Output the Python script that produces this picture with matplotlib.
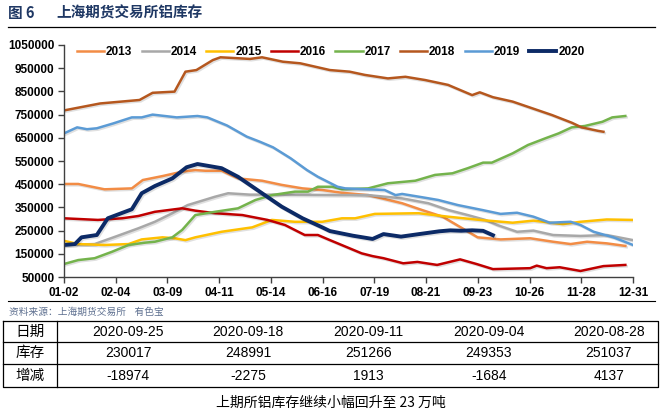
import matplotlib.pyplot as plt
import matplotlib.patheffects as pe
import numpy as np

plt.rcParams['font.family'] = ['Liberation Sans', 'Noto Sans CJK SC', 'DejaVu Sans']

# --- data (x in weeks from 01-02, y in tonnes) ---
years = ['2013', '2014', '2015', '2016', '2017', '2018', '2019', '2020']
colors = ['#F28C45', '#A8A8A8', '#FFC000', '#C00000', '#74B34C', '#B5571E', '#5B9BD5', '#0C2A66']

wk_2013 = [0, 1.3, 3.7, 6.2, 7.2, 9.0, 10.8, 12.0, 12.9, 14.4, 15.9, 18.1, 19.9, 21.8, 23.6, 25.4, 27.8,
           30.9, 32.7, 34.6, 36.4, 37.8, 39.9, 42.6, 44.7, 46.3, 47.8, 49.6, 51.3]
val_2013 = [451000, 451000, 428000, 432000, 468000, 485000, 504000, 511000, 508000, 508000, 475000,
            465000, 447000, 432000, 425000, 413000, 403000, 368000, 339000, 310000, 260000, 221000,
            212000, 217000, 202000, 192000, 202000, 195000, 184000]

wk_2014 = [0, 2.8, 4.7, 6.8, 8.3, 9.9, 11.3, 12.0, 13.8, 15.0, 17.0, 20.0, 25.4, 27.8, 30.9, 33.3, 35.1,
           36.9, 38.5, 39.6, 41.4, 42.9, 44.7, 47.2, 49.6, 52.0]
val_2014 = [188000, 192000, 224000, 260000, 288000, 325000, 360000, 370000, 396000, 411000, 405000,
            405000, 403000, 403000, 389000, 368000, 339000, 317000, 296000, 274000, 245000, 250000,
            231000, 227000, 231000, 209000]

wk_2015 = [0, 1.3, 3.7, 5.9, 7.1, 9.0, 10.1, 11.1, 12.0, 14.4, 17.2, 19.0, 21.1, 23.6, 25.4, 26.6, 28.4,
           32.4, 35.1, 38.0, 41.0, 42.9, 45.6, 47.2, 49.6, 52.0]
val_2015 = [206000, 192000, 188000, 192000, 212000, 221000, 217000, 209000, 221000, 245000, 264000,
            296000, 288000, 288000, 303000, 303000, 322000, 325000, 310000, 296000, 284000, 293000,
            278000, 288000, 298000, 296000]

wk_2016 = [0, 3.1, 5.3, 6.8, 8.3, 10.8, 12.0, 13.8, 16.3, 18.6, 20.2, 22.0, 23.2, 24.3, 27.2, 28.2, 29.2,
           31.0, 32.3, 34.1, 36.2, 37.7, 39.2, 42.6, 43.2, 44.1, 45.3, 47.2, 49.3, 51.3]
val_2016 = [303000, 296000, 303000, 313000, 331000, 346000, 336000, 325000, 317000, 296000, 274000,
            231000, 231000, 209000, 152000, 140000, 131000, 109000, 115000, 102000, 126000, 106000,
            84000, 88000, 99000, 88000, 92000, 76000, 97000, 102000]

wk_2017 = [0, 1.3, 2.8, 4.4, 5.9, 7.4, 8.3, 9.9, 10.8, 12.0, 13.8, 15.9, 17.5, 19.0, 21.1, 22.3, 23.2,
           24.5, 25.4, 27.8, 29.6, 32.1, 33.9, 35.5, 36.9, 38.3, 39.1, 41.0, 42.4, 44.0, 45.2, 46.4,
           47.6, 49.2, 50.1, 51.3]
val_2017 = [106000, 123000, 131000, 159000, 188000, 198000, 202000, 221000, 253000, 317000, 331000,
            346000, 382000, 403000, 418000, 418000, 439000, 439000, 428000, 432000, 454000, 465000,
            490000, 497000, 519000, 543000, 543000, 583000, 619000, 648000, 669000, 695000, 701000,
            719000, 738000, 744000]

wk_2018 = [0, 3.3, 6.9, 8.1, 10.1, 11.1, 12.1, 13.6, 14.3, 17.0, 18.1, 20.0, 21.6, 24.3, 26.1, 27.5,
           29.6, 31.2, 33.0, 35.1, 37.3, 38.0, 39.2, 41.0, 42.8, 44.6, 46.4, 47.3, 48.8, 49.3]
val_2018 = [768000, 798000, 813000, 844000, 849000, 935000, 942000, 985000, 997000, 990000, 997000,
            978000, 971000, 942000, 935000, 921000, 906000, 913000, 899000, 878000, 834000, 846000,
            825000, 806000, 777000, 748000, 715000, 695000, 680000, 676000]

wk_2019 = [0, 1.2, 2.1, 3.0, 4.5, 6.2, 7.1, 8.1, 10.3, 12.2, 13.1, 14.9, 16.7, 17.9, 19.1, 20.7, 22.2,
           23.2, 25.0, 25.7, 27.8, 29.3, 30.3, 30.9, 32.7, 34.2, 36.0, 38.2, 39.9, 41.4, 42.9, 44.4,
           46.3, 47.2, 48.4, 50.2, 52.0]
val_2019 = [669000, 695000, 687000, 691000, 712000, 738000, 738000, 750000, 738000, 744000, 738000,
            703000, 655000, 633000, 609000, 562000, 511000, 482000, 439000, 432000, 428000, 425000,
            403000, 408000, 394000, 382000, 360000, 339000, 322000, 327000, 310000, 284000, 288000,
            274000, 245000, 221000, 188000]

wk_2020 = [0, 1.0, 1.6, 3.0, 4.0, 6.2, 7.1, 8.3, 9.9, 11.2, 12.2, 14.4, 15.9, 18.1, 19.9, 21.8, 23.6,
           24.3, 26.4, 28.2, 29.2, 30.8, 32.3, 34.3, 35.3, 36.3, 37.3, 38.3, 39.2]
val_2020 = [188000, 192000, 221000, 231000, 303000, 342000, 411000, 442000, 475000, 523000, 537000,
            519000, 482000, 411000, 353000, 303000, 264000, 248000, 228000, 214000, 235000, 224000,
            234000, 247000, 251037, 249353, 251266, 248991, 230017]

tick_labels = ['01-02', '02-04', '03-09', '04-11', '05-14', '06-16', '07-19', '08-21',
               '09-23', '10-26', '11-28', '12-31']
y_ticks = list(range(50000, 1050001, 100000))

table_dates = ['2020-09-25', '2020-09-18', '2020-09-11', '2020-09-04', '2020-08-28']
table_stock = [230017, 248991, 251266, 249353, 251037]
table_change = [-18974, -2275, 1913, -1684, 4137]

weeks = [wk_2013, wk_2014, wk_2015, wk_2016, wk_2017, wk_2018, wk_2019, wk_2020]
values = [val_2013, val_2014, val_2015, val_2016, val_2017, val_2018, val_2019, val_2020]

# --- layout (pixel based) ---
W, H = 663, 415
fig = plt.figure(figsize=(W / 100, H / 100), dpi=100)

# overlay axes in pixel coordinates for title, table etc.
ov = fig.add_axes([0, 0, 1, 1])
ov.set_xlim(0, W)
ov.set_ylim(H, 0)
ov.axis('off')

ax = fig.add_axes([64 / W, 1 - 277 / H, (633 - 64) / W, (277 - 45) / H])

shadow = [pe.SimpleLineShadow(offset=(1, -1), alpha=0.12), pe.Normal()]
for yr, wk, val, c in zip(years, weeks, values, colors):
    lw = 2.8 if yr == '2020' else 1.8
    ax.plot(wk, val, color=c, lw=lw, label=yr, solid_joinstyle='round', path_effects=shadow)

ax.set_xlim(0, 52)
ax.set_ylim(50000, 1050000)
ax.set_xticks(np.linspace(0, 52, len(tick_labels)))
ax.set_xticklabels(tick_labels)
ax.set_yticks(y_ticks)
ax.set_yticklabels([str(v) for v in y_ticks])
for lab in ax.get_xticklabels() + ax.get_yticklabels():
    lab.set_fontweight('bold')
    lab.set_fontsize(8.5)
ax.tick_params(direction='out', length=4, width=1, color='#404040', pad=3)
ax.spines['top'].set_visible(False)
ax.spines['right'].set_visible(False)
for s in ('left', 'bottom'):
    ax.spines[s].set_color('#404040')
    ax.spines[s].set_linewidth(1)

leg = ax.legend(loc='center left', bbox_to_anchor=(77 / W, 1 - 52 / H), bbox_transform=fig.transFigure,
                ncol=8, frameon=False, prop={'weight': 'bold', 'size': 8.5}, handlelength=2.3,
                handletextpad=0.15, columnspacing=0.8, borderpad=0, borderaxespad=0)
for h in leg.get_lines():
    h.set_path_effects([])

# title
title_color = '#1F3864'
ov.text(8, 13, '图 6', fontsize=10.5, fontweight='bold', color=title_color, va='center',
        family=['Noto Sans CJK SC'])
ov.text(56, 13, '上海期货交易所铝库存', fontsize=10.5, fontweight='bold', color=title_color,
        va='center', family=['Noto Sans CJK SC'])
ov.plot([8, 655], [27, 27], color='black', lw=0.9)

# source
ov.plot([8, 655], [301, 301], color='black', lw=0.8)
ov.text(9, 312, '资料来源：上海期货交易所    有色宝', fontsize=7, color='#5E7090', va='center',
        family=['Noto Sans CJK SC'])

# table
x0, x1, xc = 3, 658, 57
row_lines = [321, 342, 364, 387]
ov.plot([x0, x1, x1, x0, x0], [row_lines[0], row_lines[0], row_lines[-1], row_lines[-1], row_lines[0]],
        color='black', lw=0.9)
for yl in row_lines[1:-1]:
    ov.plot([x0, x1], [yl, yl], color='black', lw=0.9)
ov.plot([xc, xc], [row_lines[0], row_lines[-1]], color='black', lw=0.9)

col_w = (x1 - xc) / len(table_dates)
text_shift = 11
row_names = ['日期', '库存', '增减']
rows = [table_dates, [str(v) for v in table_stock], [str(v) for v in table_change]]
for r, (name, cells) in enumerate(zip(row_names, rows)):
    yc = (row_lines[r] + row_lines[r + 1]) / 2
    ov.text((x0 + xc) / 2, yc, name, fontsize=10.5, ha='center', va='center',
            family=['Noto Sans CJK SC'])
    for i, cell in enumerate(cells):
        ov.text(xc + col_w * (i + 0.5) + text_shift, yc, cell, fontsize=10, ha='center',
                va='center', family=['Liberation Sans'])

ov.text(331, 403, '上期所铝库存继续小幅回升至 23 万吨', fontsize=10, ha='center', va='center',
        family=['Noto Sans CJK SC'])

fig.savefig('out.png', dpi=100)
